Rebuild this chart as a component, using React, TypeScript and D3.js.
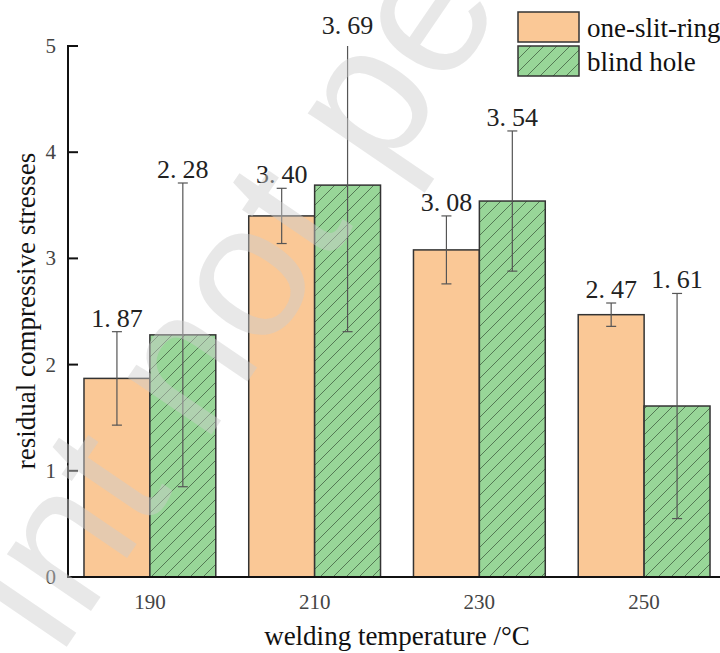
import React from 'react';
import * as d3 from 'd3';

const temps = ['190', '210', '230', '250'];
const seriesNames = ['one-slit-ring', 'blind hole'];
const oneSlitRing = [1.87, 3.40, 3.08, 2.47];
const oneSlitRingErr = [0.44, 0.26, 0.32, 0.11];
const blindHole = [2.28, 3.69, 3.54, 1.61];
const blindHoleErr = [1.43, 1.38, 0.66, 1.06];
const yTicks = [0, 1, 2, 3, 4, 5];

const W = 720;
const H = 653;
const LEFT = 68;
const BASE = 577;
const TOP = 46;
const SERIF = '"Liberation Serif", "Times New Roman", serif';
const FILLS = ['#FAC896', '#98D698'];

export default function App() {
  const y = d3.scaleLinear().domain([0, 5]).range([BASE, TOP]);
  const x = d3.scaleBand<string>().domain(temps).range([LEFT, 726]).paddingInner(0.2).paddingOuter(0.097);
  const sub = d3.scaleBand<string>().domain(seriesNames).range([0, x.bandwidth()]);

  const rows = temps.map((t, i) => [
    { t, s: seriesNames[0], v: oneSlitRing[i], e: oneSlitRingErr[i] },
    { t, s: seriesNames[1], v: blindHole[i], e: blindHoleErr[i] },
  ]);

  // labels are drawn like "2. 28" in the source figure
  const label = (v: number) => {
    const [a, b] = v.toFixed(2).split('.');
    return (
      <>
        {a}.<tspan dx={6}>{b}</tspan>
      </>
    );
  };

  return (
    <svg width={W} height={H} style={{ position: 'absolute', left: 0, top: 0, background: '#fff' }}>
      <defs>
        <pattern id="hatch" patternUnits="userSpaceOnUse" width={13} height={13}>
          <rect width={13} height={13} fill={FILLS[1]} />
          <path d="M-2,2 L2,-2 M0,13 L13,0 M11,15 L15,11" stroke="#4d6e4d" strokeWidth={0.9} />
        </pattern>
        <clipPath id="plot">
          <rect x={LEFT} y={TOP} width={W - LEFT} height={BASE - TOP} />
        </clipPath>
      </defs>

      {/* bars */}
      {rows.map((grp) =>
        grp.map((d, j) => (
          <rect
            key={d.t + d.s}
            x={x(d.t)! + sub(d.s)!}
            y={y(d.v)}
            width={sub.bandwidth()}
            height={y(0) - y(d.v)}
            fill={j === 0 ? FILLS[0] : 'url(#hatch)'}
            stroke="#333"
            strokeWidth={1.5}
          />
        ))
      )}

      {/* error bars */}
      <g clipPath="url(#plot)" stroke="#555" strokeWidth={1.2}>
        {rows.flat().map((d) => {
          const cx = x(d.t)! + sub(d.s)! + sub.bandwidth() / 2;
          return (
            <g key={'e' + d.t + d.s}>
              <line x1={cx} x2={cx} y1={y(d.v + d.e)} y2={y(d.v - d.e)} />
              <line x1={cx - 5} x2={cx + 5} y1={y(d.v + d.e)} y2={y(d.v + d.e)} />
              <line x1={cx - 5} x2={cx + 5} y1={y(d.v - d.e)} y2={y(d.v - d.e)} />
            </g>
          );
        })}
      </g>

      {/* value labels */}
      {rows.flat().map((d) => (
        <text
          key={'l' + d.t + d.s}
          x={x(d.t)! + sub(d.s)! + sub.bandwidth() / 2}
          y={y(d.v + d.e) - 5}
          textAnchor="middle"
          fontFamily={SERIF}
          fontSize={26}
          fill="#222"
        >
          {label(d.v)}
        </text>
      ))}

      {/* axes */}
      <line x1={LEFT} x2={W} y1={BASE} y2={BASE} stroke="#111" strokeWidth={2} />
      <line x1={LEFT} x2={LEFT} y1={TOP - 1} y2={BASE + 1} stroke="#111" strokeWidth={2} />
      {yTicks.map((t) => (
        <g key={'y' + t}>
          <line x1={LEFT} x2={LEFT + 10} y1={y(t)} y2={y(t)} stroke="#111" strokeWidth={2} />
          <text x={56} y={y(t) + 7} textAnchor="end" fontFamily={SERIF} fontSize={21} fill="#444">
            {t}
          </text>
        </g>
      ))}
      {temps.map((t) => (
        <text
          key={'x' + t}
          x={x(t)! + x.bandwidth() / 2}
          y={609}
          textAnchor="middle"
          fontFamily={SERIF}
          fontSize={21}
          fill="#444"
        >
          {t}
        </text>
      ))}
      <text x={397} y={645} textAnchor="middle" fontFamily={SERIF} fontSize={27} fill="#111">
        welding temperature /°C
      </text>
      <text
        transform={`translate(35,${(152 + 470) / 2}) rotate(-90)`}
        textAnchor="middle"
        fontFamily={SERIF}
        fontSize={27}
        fill="#111"
      >
        residual compressive stresses
      </text>

      {/* legend */}
      {seriesNames.map((s, i) => (
        <g key={'lg' + s} transform={`translate(518,${12 + i * 34})`}>
          <rect width={61} height={30} fill={i === 0 ? FILLS[0] : 'url(#hatch)'} stroke="#333" strokeWidth={1.5} />
          <text x={69} y={25} fontFamily={SERIF} fontSize={27} fill="#111">
            {s}
          </text>
        </g>
      ))}

      {/* watermark */}
      <text
        transform="translate(-205,1045) rotate(-55.7)"
        fontFamily='"Liberation Sans", Arial, sans-serif'
        fontSize={192}
        fill="rgb(205,205,205)"
        fillOpacity={0.46}
      >
        Preprint not peer reviewed
      </text>
    </svg>
  );
}
